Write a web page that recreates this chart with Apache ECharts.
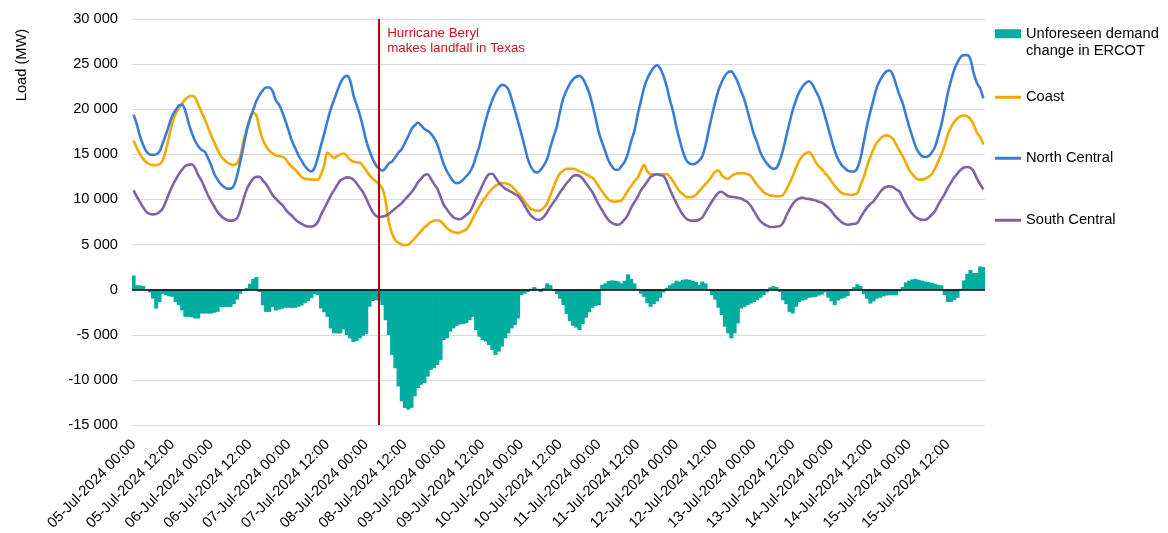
<!DOCTYPE html>
<html>
<head>
<meta charset="utf-8">
<script src="https://cdn.jsdelivr.net/npm/echarts/dist/echarts.min.js"></script>
<style>
html,body{margin:0;padding:0;background:#fff;overflow:hidden;}
#chart{width:1168px;height:533px;}
</style>
</head>
<body>
<div id="chart"></div>
<script>
// ---- Data (hourly, 05-Jul-2024 00:00 .. 15-Jul-2024 23:00) ----
const days = ['05','06','07','08','09','10','11','12','13','14','15'];
const categories = [];
days.forEach(function (d) {
  for (let h = 0; h < 24; h++) categories.push(d + '-Jul-2024 ' + String(h).padStart(2, '0') + ':00');
});

const landfallLabel = '08-Jul-2024 04:00';
const annotationText = 'Hurricane Beryl\nmakes landfall in Texas';

const unforeseenDemand = [
  1580,480,480,400,0,-300,-1000,-2090,-1360,-450,-600,-730,
  -800,-1360,-1700,-2300,-3010,-3010,-3050,-3190,-3190,-2640,-2640,-2640,
  -2640,-2550,-2450,-1910,-1910,-1910,-1910,-1600,-1100,-450,-100,200,
  660,1210,1400,-260,-1730,-2460,-2460,-1900,-2300,-2200,-2100,-2000,
  -2000,-2050,-2000,-1900,-1750,-1500,-1250,-950,-500,-600,-2090,-2500,
  -3010,-4300,-4840,-4840,-4840,-4400,-5030,-5400,-5800,-5700,-5400,-5100,
  -4900,-1900,-1250,-1170,-1200,-1700,-3380,-5030,-7230,-8700,-10720,-12370,
  -13100,-13290,-13100,-11820,-10900,-10530,-10350,-9620,-8880,-8700,-8330,-7780,
  -5580,-5390,-4660,-4290,-4000,-3850,-3800,-3700,-3380,-3010,-4480,-5210,
  -5580,-5760,-6130,-6680,-7230,-6860,-6310,-5390,-4840,-4290,-3930,-3190,
  -620,-440,-260,110,290,110,-260,180,700,500,-100,-500,
  -1000,-1700,-2700,-3500,-4000,-4200,-4480,-3800,-3100,-2500,-2000,-1800,
  -1700,550,700,950,1030,1000,920,700,1000,1700,1200,700,
  100,-450,-800,-1500,-1900,-1600,-1300,-900,-300,200,500,700,
  1000,900,1100,1150,1100,1000,850,550,900,700,-100,-600,
  -1100,-2000,-2800,-4100,-4840,-5390,-4840,-3740,-2090,-1910,-1720,-1540,
  -1360,-1170,-900,-600,-300,250,400,300,-250,-1170,-1600,-2460,
  -2640,-1900,-1360,-1200,-1100,-900,-850,-800,-650,-550,-300,-900,
  -1300,-1720,-1200,-1000,-900,-700,-100,300,600,400,-500,-1000,
  -1540,-1300,-1000,-900,-750,-650,-620,-620,-620,-200,300,800,
  1000,1140,1210,1100,1000,900,850,770,660,550,480,-600,
  -1350,-1360,-1170,-900,100,1030,1760,2200,1850,1850,2570,2500
];

const coast = [
  16500,15700,15000,14500,14100,13900,13800,13800,13900,14300,15500,17000,
  18500,19500,20100,20600,21100,21400,21500,21300,20500,19700,18900,18000,
  17100,16300,15500,14800,14400,14100,13900,13800,14000,14800,16500,17800,
  19000,19600,19300,17800,16600,15900,15400,15100,14900,14800,14750,14500,
  14000,13600,13300,12900,12500,12300,12250,12200,12200,12200,12800,13800,
  15200,14900,14600,14800,15000,15100,14800,14400,14200,14100,14100,13700,
  13200,12700,12300,12000,11700,11200,9800,7500,6200,5500,5200,5000,
  4950,5000,5300,5700,6100,6500,6900,7200,7500,7650,7700,7600,
  7200,6800,6550,6400,6300,6350,6500,6700,7200,7900,8600,9200,
  9800,10300,10800,11200,11500,11700,11800,11800,11700,11500,11100,10700,
  10300,9800,9300,8950,8800,8750,8800,9100,9600,10500,11400,12300,
  12900,13200,13400,13400,13400,13300,13100,13000,12800,12600,12400,12000,
  11400,10900,10400,10000,9800,9750,9800,9900,10400,11000,11500,12000,
  12400,13200,13800,13100,12800,12800,12800,12800,12800,12800,12500,12000,
  11400,10900,10600,10300,10250,10300,10500,10900,11300,11700,12100,12600,
  13100,13200,12700,12400,12300,12600,12800,12900,12900,12900,12800,12600,
  12100,11600,11200,10800,10600,10450,10400,10350,10350,10500,11100,11800,
  12600,13500,14300,14800,15100,15250,14900,14200,13700,13350,12900,12500,
  12000,11500,11100,10750,10600,10550,10500,10550,10700,11600,12500,13700,
  14700,15600,16300,16700,17000,17100,17000,16700,16100,15400,14800,14100,
  13300,12800,12400,12200,12200,12300,12500,12800,13400,14200,15000,16000,
  17200,18000,18600,19000,19250,19300,19200,18900,18300,17400,16900,16100
];

const northCentral = [
  19400,18300,17000,16000,15300,15000,14950,15000,15300,16200,17200,18300,
  19300,19900,20400,20500,19800,18500,17400,16500,15900,15500,15300,14600,
  13800,12800,12200,11700,11400,11200,11200,11500,12600,14200,15900,17600,
  18900,19900,20900,21600,22100,22400,22400,22000,21000,20500,19700,18700,
  17600,16500,15700,14900,14300,13700,13300,13100,13500,14600,16000,17300,
  18700,20000,21000,22000,22900,23500,23700,23200,21600,20500,19400,18000,
  16500,15400,14500,13800,13400,13200,13500,14000,14200,14700,15200,15600,
  16300,17000,17800,18200,18500,18200,17800,17600,17300,16800,16100,15000,
  13900,13100,12500,12000,11800,11900,12200,12600,13000,13700,14800,15900,
  17400,18800,20000,21000,21800,22400,22700,22600,22200,21100,19900,18600,
  17300,15900,14500,13600,13100,13000,13300,13800,14500,15800,17000,18100,
  19800,21200,22100,22800,23300,23600,23700,23400,22700,21800,20500,19000,
  17400,16300,15300,14300,13700,13300,13300,13700,14200,15100,16500,17600,
  19400,20900,22400,23400,24100,24600,24900,24500,23700,22500,21000,19700,
  18000,16600,15300,14400,14000,13900,14000,14300,14800,16000,17700,19300,
  20800,22100,23000,23700,24100,24200,23700,23000,22000,21100,19800,18500,
  17200,16300,15200,14500,14000,13600,13400,13500,14300,15500,17000,18500,
  19900,21000,21900,22500,22900,23100,22800,22100,21400,20400,19200,17900,
  16600,15400,14500,13900,13500,13200,13100,13100,13500,14600,16400,18200,
  19700,21100,22400,23200,23800,24200,24300,23800,22700,21600,20700,19400,
  18100,17000,15900,15200,14800,14700,14800,15200,15800,17000,18300,20000,
  21800,23200,24400,25200,25800,26000,26000,25500,24000,22900,22300,21200
];

const southCentral = [
  11000,10300,9700,9100,8600,8400,8350,8400,8600,9000,9800,10700,
  11500,12200,12800,13300,13700,13850,13900,13500,12700,12100,11300,10500,
  9800,9200,8600,8200,7900,7700,7650,7700,7900,8800,10000,11100,
  11800,12300,12500,12500,12100,11700,11100,10500,10100,9700,9400,8900,
  8500,8200,7800,7500,7300,7100,7000,7000,7100,7500,8300,9000,
  9700,10400,11000,11600,12100,12300,12450,12400,12200,11800,11300,10800,
  10100,9300,8600,8200,8050,8100,8200,8400,8700,9000,9300,9600,
  10000,10400,10800,11300,11900,12300,12700,12800,12300,11700,11200,10300,
  9400,8900,8400,8000,7850,7800,8000,8300,8600,9300,10100,10800,
  11600,12300,12800,12850,12400,11900,11500,11200,11000,10800,10600,10400,
  9900,9300,8700,8200,7900,7750,7800,8100,8600,9200,9700,10200,
  10800,11300,11800,12200,12600,12700,12600,12300,11800,11300,10800,10100,
  9400,8800,8200,7700,7400,7250,7200,7400,7800,8300,9100,9700,
  10300,11000,11500,12000,12500,12700,12800,12700,12600,12000,11100,10300,
  9600,8900,8300,7900,7700,7650,7650,7750,8000,8600,9200,9800,
  10300,10750,10850,10600,10350,10300,10250,10200,10100,9900,9700,9300,
  8700,8100,7600,7300,7100,6950,6950,7000,7050,7400,8200,8900,
  9500,9900,10100,10200,10100,10050,10000,9900,9750,9650,9400,9100,
  8700,8200,7850,7500,7300,7200,7250,7300,7400,8000,8600,9100,
  9500,9800,10300,10800,11200,11400,11450,11400,11100,10900,10200,9500,
  8900,8400,8050,7850,7750,7750,7950,8300,8700,9400,10000,10600,
  11300,11900,12450,12900,13300,13550,13600,13500,13100,12300,11700,11100
];

const seriesNames = ['Unforeseen demand\nchange in ERCOT', 'Coast', 'North Central', 'South Central'];
const colors = ['#00AD9F', '#F2A900', '#3A7DD7', '#7F63A6'];

// ---- Chart ----
const FONT = 'Liberation Sans, Arial, sans-serif';
const FS = 14.67;
const chart = echarts.init(document.getElementById('chart'), null, {renderer: 'canvas'});

function fmt(v) {
  const s = Math.abs(v).toString().replace(/\B(?=(\d{3})+(?!\d))/g, ' ');
  return (v < 0 ? '-' : '') + s;
}

function legendFor(name, top, icon, itemHeight, extra) {
  return Object.assign({
    data: [name], left: 995, top: top, orient: 'vertical', padding: 0,
    icon: icon, itemWidth: 26, itemHeight: itemHeight,
    selectedMode: false,
    textStyle: {fontFamily: FONT, fontSize: FS, color: '#000', lineHeight: 17.5}
  }, extra || {});
}

const lineSeries = function (name, data, color) {
  return {
    name: name, type: 'line', data: data, showSymbol: false, symbol: 'none',
    smooth: 0.35, color: color, z: 3,
    lineStyle: {width: 2.6, color: color},
    emphasis: {disabled: true}
  };
};

chart.setOption({
  animation: false,
  backgroundColor: '#fff',
  grid: {left: 132, right: 183, top: 19, bottom: 106, containLabel: false},
  xAxis: {
    type: 'category', data: categories, boundaryGap: true,
    axisLine: {show: false}, axisTick: {show: false},
    axisLabel: {interval: 11, rotate: 45, margin: 17, color: '#000', fontFamily: FONT, fontSize: FS},
    splitLine: {show: false}
  },
  yAxis: {
    type: 'value', min: -15000, max: 30000, interval: 5000,
    axisLine: {show: false}, axisTick: {show: false},
    axisLabel: {formatter: fmt, margin: 14, color: '#000', fontFamily: FONT, fontSize: FS},
    splitLine: {lineStyle: {color: '#d9d9d9', width: 1}}
  },
  legend: [
    legendFor(seriesNames[0], 7.5, 'rect', 9, {formatter: function (n) { return '\n' + n; }}),
    legendFor(seriesNames[1], 88.5, 'rect', 3),
    legendFor(seriesNames[2], 149.5, 'rect', 3),
    legendFor(seriesNames[3], 211.5, 'rect', 3)
  ],
  series: [
    {
      name: seriesNames[0], type: 'bar', data: unforeseenDemand, color: colors[0],
      barWidth: 4, z: 2,
      itemStyle: {color: colors[0]},
      emphasis: {disabled: true},
      markLine: {
        silent: true, symbol: 'none', z: 4,
        label: {show: false},
        lineStyle: {color: '#000', width: 1.5, type: 'solid'},
        data: [{yAxis: 0}]
      }
    },
    lineSeries(seriesNames[1], coast, colors[1]),
    lineSeries(seriesNames[2], northCentral, colors[2]),
    Object.assign(lineSeries(seriesNames[3], southCentral, colors[3]), {
      markLine: {
        silent: true, symbol: 'none', z: 6,
        label: {show: false},
        lineStyle: {color: '#C00000', width: 2, type: 'solid'},
        data: [{xAxis: landfallLabel}]
      }
    })
  ]
});

// Annotation and axis title placed relative to the axis scale
const px = chart.convertToPixel({xAxisIndex: 0}, landfallLabel);
const yTop = chart.convertToPixel({yAxisIndex: 0}, 30000);
chart.setOption({
  graphic: [
    {
      type: 'text', left: px + 8, top: yTop + 7,
      style: {text: annotationText, fill: '#D0101B', font: '13.33px ' + FONT, lineHeight: 15}
    },
    {
      type: 'text', x: 22, y: 65, rotation: Math.PI / 2,
      style: {text: 'Load (MW)', fill: '#000', font: FS + 'px ' + FONT, align: 'center', verticalAlign: 'middle'}
    }
  ]
});
</script>
</body>
</html>
